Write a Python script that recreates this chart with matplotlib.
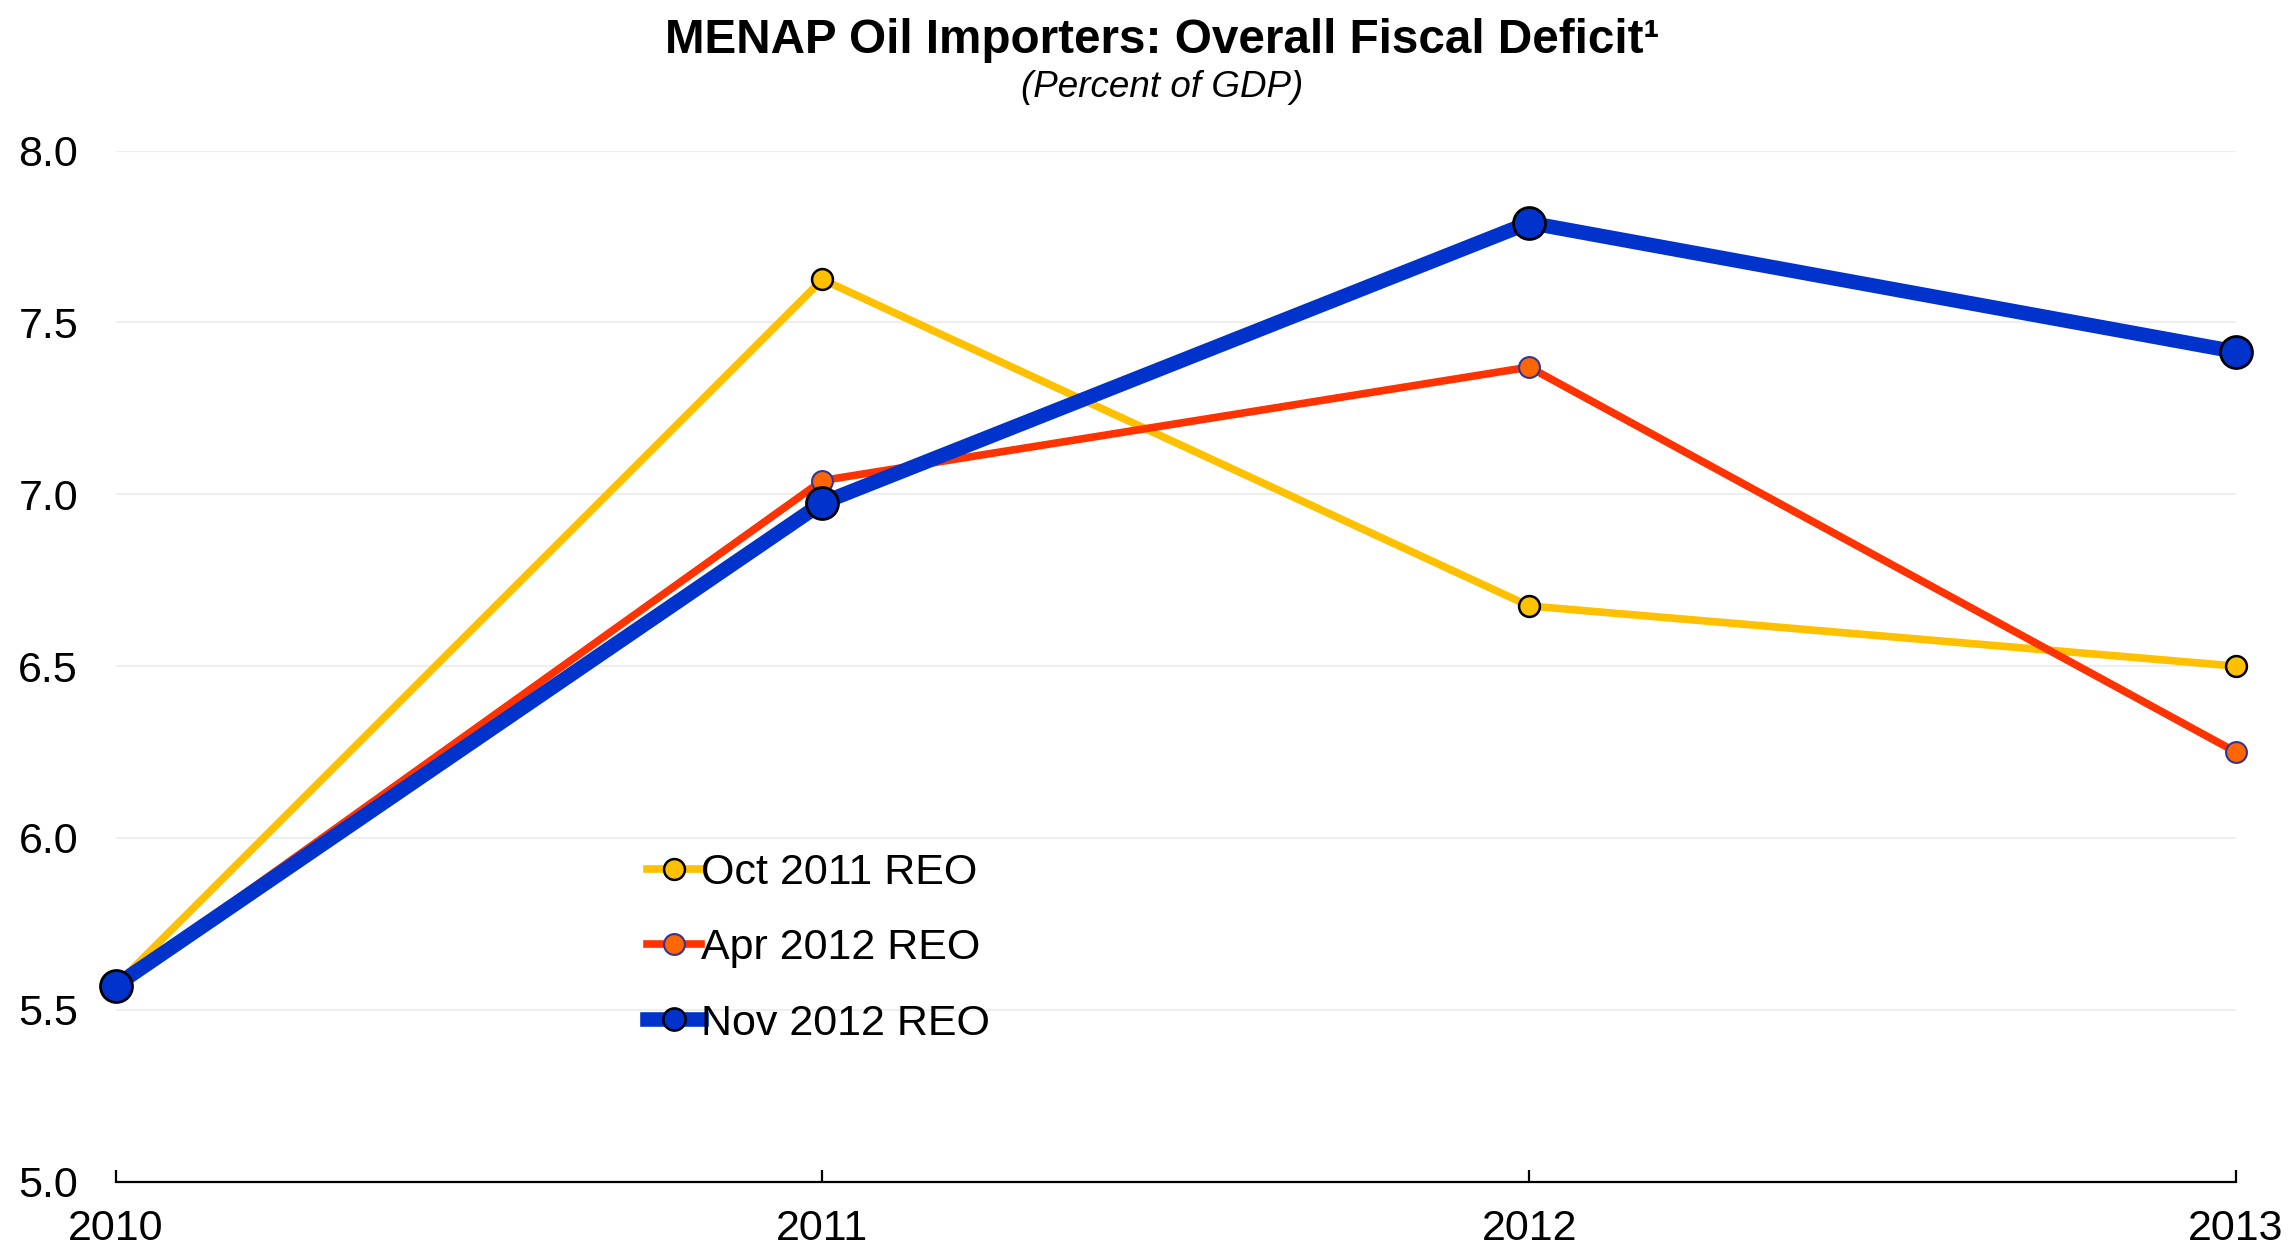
import matplotlib
matplotlib.use("Agg")
import matplotlib.pyplot as plt
from matplotlib.lines import Line2D

# data (percent of GDP)
years = [2010, 2011, 2012, 2013]
oct_2011 = [5.57, 7.625, 6.675, 6.50]
apr_2012 = [5.57, 7.04, 7.37, 6.25]
nov_2012 = [5.57, 6.975, 7.79, 7.415]
labels = ["Oct 2011 REO", "Apr 2012 REO", "Nov 2012 REO"]
yticks = [5.0, 5.5, 6.0, 6.5, 7.0, 7.5, 8.0]

plt.rcParams["font.family"] = ["Liberation Sans", "DejaVu Sans"]

fig = plt.figure(figsize=(22.93, 12.53), dpi=100)
ax = fig.add_axes([0.0504, 0.0570, 0.9247, 0.8228])

YEL, RED, RED_MK, BLUE = "#FFC000", "#FF3300", "#FF6600", "#0033CC"

ax.plot(years, oct_2011, color=YEL, lw=5.5, marker="o", ms=15,
        mfc=YEL, mec="black", mew=1.8, clip_on=False, zorder=3)
ax.plot(years, apr_2012, color=RED, lw=5.5, marker="o", ms=15,
        mfc=RED_MK, mec="#333399", mew=1.5, clip_on=False, zorder=4)
ax.plot(years, nov_2012, color=BLUE, lw=10.5, marker="o", ms=23,
        mfc=BLUE, mec="black", mew=2.0, clip_on=False, zorder=5)

ax.set_xlim(years[0], years[-1])
ax.set_ylim(yticks[0], yticks[-1])
ax.set_xticks(years)
ax.set_xticklabels([str(y) for y in years])
ax.set_yticks(yticks)
ax.set_yticklabels([f"{v:.1f}" for v in yticks])

for s in ("top", "right", "left"):
    ax.spines[s].set_visible(False)
ax.spines["bottom"].set_linewidth(1.6)
ax.spines["bottom"].set_color("black")
ax.tick_params(axis="x", direction="in", length=9, width=1.6, pad=20, labelsize=31)
ax.tick_params(axis="y", length=0, pad=27, labelsize=31)
ax.yaxis.grid(True, color="#EEEEEE", lw=1.5)
ax.set_axisbelow(True)

handles = [
    Line2D([], [], color=YEL, lw=5.5, marker="o", ms=15, mfc=YEL, mec="black", mew=1.8),
    Line2D([], [], color=RED, lw=5.5, marker="o", ms=15, mfc=RED_MK, mec="#333399", mew=1.5),
    Line2D([], [], color=BLUE, lw=10.5, marker="o", ms=16, mfc=BLUE, mec="black", mew=1.8),
]
ax.legend(handles, labels, loc="upper left", bbox_to_anchor=(0.2425, 0.3355),
          frameon=False, fontsize=31, handlelength=1.25, handletextpad=0.0,
          labelspacing=0.82, borderaxespad=0)

fig.text(0.507, 0.958, "MENAP Oil Importers: Overall Fiscal Deficit¹",
         ha="center", va="baseline", fontsize=34.3, fontweight="bold")
fig.text(0.507, 0.9226, "(Percent of GDP)", ha="center", va="baseline",
         fontsize=26.5, style="italic")

fig.savefig("out.png", dpi=100)
